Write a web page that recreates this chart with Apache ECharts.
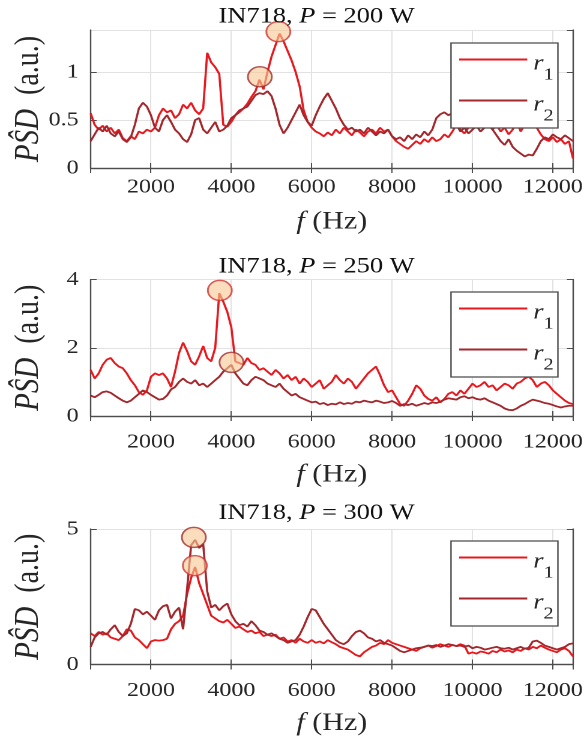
<!DOCTYPE html>
<html>
<head>
<meta charset="utf-8">
<script src="https://cdn.jsdelivr.net/npm/echarts@6/dist/echarts.min.js"></script>
<style>
html,body{margin:0;padding:0;background:#fff;overflow:hidden;}
#wrap{width:587px;height:738px;overflow:hidden;position:relative;background:#fff;}
#chart{width:489px;height:738px;transform:scaleX(1.20041);transform-origin:0 0;}
</style>
</head>
<body>
<div id="wrap"><div id="chart"></div></div>
<script>
// ---------------- data ----------------
const freq = [
  500,600,700,800,900,1000,1100,1200,1300,1400,
  1500,1600,1700,1800,1900,2000,2100,2200,2300,2400,
  2500,2600,2700,2800,2900,3000,3100,3200,3300,3400,
  3500,3600,3700,3800,3900,4000,4100,4200,4300,4400,
  4500,4600,4700,4800,4900,5000,5100,5200,5300,5400,
  5500,5600,5700,5800,5900,6000,6100,6200,6300,6400,
  6500,6600,6700,6800,6900,7000,7100,7200,7300,7400,
  7500,7600,7700,7800,7900,8000,8100,8200,8300,8400,
  8500,8600,8700,8800,8900,9000,9100,9200,9300,9400,
  9500,9600,9700,9800,9900,10000,10100,10200,10300,10400,
  10500,10600,10700,10800,10900,11000,11100,11200,11300,11400,
  11500,11600,11700,11800,11900,12000,12100,12200,12300,12400,
  12500
];

const psd200_r1 = [
  0.57,0.45,0.40,0.44,0.38,0.42,0.36,0.40,0.31,0.28,
  0.33,0.30,0.38,0.36,0.40,0.38,0.42,0.55,0.62,0.58,
  0.60,0.52,0.56,0.66,0.62,0.68,0.60,0.56,0.62,1.20,
  1.10,1.05,0.98,0.45,0.43,0.48,0.55,0.58,0.62,0.67,
  0.74,0.80,0.92,0.82,1.00,1.16,1.28,1.40,1.32,1.22,
  1.12,1.00,0.85,0.60,0.48,0.42,0.38,0.36,0.33,0.37,
  0.34,0.40,0.36,0.42,0.38,0.34,0.40,0.37,0.33,0.38,
  0.40,0.36,0.42,0.38,0.40,0.33,0.28,0.25,0.22,0.20,
  0.24,0.28,0.25,0.30,0.27,0.32,0.28,0.30,0.35,0.32,
  0.38,0.45,0.40,0.36,0.42,0.48,0.60,0.55,0.50,0.45,
  0.40,0.45,0.38,0.42,0.35,0.40,0.48,0.38,0.45,0.50,
  0.55,0.42,0.35,0.30,0.28,0.32,0.27,0.30,0.25,0.28,
  0.10
];
const psd200_r2 = [
  0.28,0.35,0.42,0.38,0.44,0.36,0.33,0.38,0.30,0.27,
  0.32,0.45,0.62,0.68,0.64,0.55,0.42,0.38,0.50,0.55,
  0.48,0.40,0.36,0.30,0.27,0.35,0.50,0.52,0.40,0.36,
  0.42,0.48,0.38,0.40,0.44,0.52,0.55,0.60,0.62,0.64,
  0.70,0.76,0.78,0.77,0.80,0.75,0.62,0.45,0.36,0.42,
  0.50,0.58,0.66,0.55,0.48,0.44,0.55,0.64,0.72,0.78,
  0.70,0.62,0.52,0.45,0.40,0.42,0.38,0.40,0.36,0.42,
  0.38,0.34,0.38,0.36,0.40,0.33,0.30,0.32,0.28,0.34,
  0.30,0.35,0.32,0.38,0.34,0.40,0.52,0.56,0.58,0.55,
  0.57,0.45,0.38,0.42,0.36,0.40,0.44,0.38,0.42,0.46,
  0.40,0.34,0.28,0.24,0.30,0.22,0.18,0.15,0.12,0.14,
  0.13,0.20,0.28,0.32,0.30,0.35,0.32,0.30,0.34,0.31,
  0.28
];
const psd250_r1 = [
  1.35,1.10,1.25,1.50,1.65,1.70,1.55,1.45,1.40,1.25,
  1.05,0.90,0.70,0.62,0.75,1.15,1.25,1.20,1.25,1.10,
  0.85,1.30,1.85,2.15,1.90,1.60,1.50,1.75,2.05,1.70,
  1.60,2.00,3.60,3.35,3.05,2.60,1.60,1.55,1.50,1.70,
  1.55,1.50,1.35,1.40,1.30,1.20,1.35,1.25,1.10,1.20,
  1.05,1.15,0.95,1.10,1.00,0.85,0.95,1.05,0.80,0.90,
  1.00,1.20,1.05,0.95,1.10,1.00,0.80,0.95,1.10,1.25,
  1.35,1.45,1.20,0.90,0.70,0.75,0.55,0.35,0.30,0.45,
  0.65,0.90,0.80,0.60,0.50,0.45,0.55,0.40,0.50,0.65,
  0.70,0.60,0.75,0.65,0.80,0.95,0.85,0.90,1.00,0.85,
  0.90,0.75,0.85,0.95,0.90,0.80,0.95,1.00,1.10,1.15,
  1.05,0.85,0.95,1.00,0.90,0.75,0.65,0.55,0.45,0.38,
  0.35
];
const psd250_r2 = [
  0.60,0.55,0.62,0.70,0.72,0.68,0.60,0.52,0.45,0.40,
  0.45,0.55,0.65,0.75,0.70,0.62,0.55,0.48,0.50,0.60,
  0.78,0.85,1.00,1.10,1.00,0.95,1.05,0.90,0.95,0.85,
  0.95,1.05,1.15,1.30,1.40,1.50,1.25,1.10,0.95,0.90,
  1.05,1.15,1.10,1.05,0.95,0.90,0.85,0.95,0.80,0.70,
  0.60,0.65,0.55,0.50,0.45,0.40,0.42,0.35,0.38,0.32,
  0.36,0.34,0.40,0.35,0.38,0.36,0.42,0.40,0.45,0.42,
  0.40,0.45,0.42,0.38,0.40,0.44,0.38,0.30,0.35,0.32,
  0.36,0.30,0.34,0.38,0.35,0.40,0.38,0.42,0.48,0.52,
  0.50,0.48,0.55,0.58,0.52,0.55,0.50,0.48,0.52,0.45,
  0.40,0.35,0.30,0.22,0.18,0.17,0.22,0.30,0.35,0.42,
  0.48,0.45,0.42,0.38,0.36,0.32,0.28,0.25,0.28,0.30,
  0.30
];
const psd300_r1 = [
  1.15,1.05,1.20,1.10,1.15,1.00,0.95,0.90,1.05,1.30,
  1.25,1.00,0.90,0.75,0.60,0.85,0.90,0.88,0.90,0.95,
  1.30,1.50,1.60,1.80,2.60,3.20,3.60,3.00,2.60,2.20,
  1.80,1.70,1.60,1.55,1.65,1.50,1.35,1.40,1.30,1.20,
  1.25,1.15,1.20,1.05,1.10,1.05,1.10,0.95,1.00,0.85,
  0.90,0.80,0.95,0.85,0.80,0.90,0.80,0.85,0.78,0.90,
  0.82,0.75,0.65,0.60,0.55,0.45,0.35,0.30,0.45,0.55,
  0.65,0.70,0.80,0.75,0.90,0.80,0.75,0.70,0.65,0.60,
  0.55,0.50,0.60,0.65,0.70,0.62,0.68,0.75,0.70,0.65,
  0.72,0.68,0.75,0.70,0.40,0.45,0.40,0.48,0.45,0.40,
  0.50,0.45,0.55,0.48,0.52,0.45,0.55,0.50,0.60,0.55,
  0.65,0.60,0.70,0.62,0.55,0.50,0.45,0.55,0.60,0.50,
  0.30
];
const psd300_r2 = [
  0.65,1.00,1.15,1.20,1.10,1.30,1.45,1.20,1.05,1.15,
  1.50,2.05,2.00,1.85,1.95,1.80,1.65,2.00,2.15,2.20,
  1.70,1.95,2.10,1.30,2.80,4.40,4.60,4.30,4.45,2.70,
  2.10,2.20,2.00,2.15,2.25,1.85,1.60,1.45,1.50,1.40,
  1.60,1.45,1.25,1.20,1.10,1.15,1.05,0.95,0.90,0.80,
  0.85,0.90,1.10,1.40,1.75,2.05,2.00,1.75,1.50,1.30,
  1.10,0.90,0.80,0.75,0.85,1.05,1.20,1.25,1.15,1.00,
  0.95,0.85,0.90,0.80,0.75,0.70,0.60,0.50,0.45,0.50,
  0.55,0.60,0.62,0.65,0.70,0.68,0.72,0.65,0.70,0.75,
  0.72,0.68,0.70,0.65,0.70,0.60,0.65,0.62,0.55,0.58,
  0.62,0.65,0.60,0.58,0.62,0.55,0.60,0.65,0.58,0.62,
  0.85,0.88,0.80,0.70,0.65,0.60,0.55,0.60,0.65,0.75,
  0.78
];

// marked peaks [frequency, PSD]
const peak200_r1 = [[5170, 1.42]];
const peak200_r2 = [[4710, 0.95]];
const peak250_r1 = [[3714, 3.68]];
const peak250_r2 = [[4004, 1.57]];
const peak300_r1 = [[3093, 3.65]];
const peak300_r2 = [[3068, 4.69]];

const powers = ['200', '250', '300'];
const yMaxes = [1.4375, 4, 5];
const yIntervals = [0.5, 2, 5];
const seriesNames = ['r1', 'r2'];

// ---------------- styling / layout ----------------
const FONT = '"Liberation Serif","Times New Roman",Times,serif';
const C1 = '#e8191e';
const C2 = '#a3282d';
const FILL = 'rgba(247,200,148,0.78)';
const AX = '#4d4d4d';
const GRIDC = '#e2e2e2';
const TXT = '#262626';

const panelsData = [
  {r1: psd200_r1, r2: psd200_r2, p1: peak200_r1, p2: peak200_r2},
  {r1: psd250_r1, r2: psd250_r2, p1: peak250_r1, p2: peak250_r2},
  {r1: psd300_r1, r2: psd300_r2, p1: peak300_r1, p2: peak300_r2}
];
const layout = [
  {top: 30,    height: 138,   titleY: 16.7,  legTop: 43,  labelMargin: 9,  xNameGap: 40},
  {top: 279.5, height: 136.5, titleY: 266.7, legTop: 292, labelMargin: 16, xNameGap: 45},
  {top: 529,   height: 135.5, titleY: 513.3, legTop: 541, labelMargin: 16, xNameGap: 45}
];
const GL = 75.5, GR = 11.7;

const xNameRich = () => ({
  i: {fontFamily: FONT, fontSize: 25, fontStyle: 'italic', fontWeight: 'normal', color: TXT, lineHeight: 28},
  n: {fontFamily: FONT, fontSize: 25, fontWeight: 'normal', color: TXT, lineHeight: 28}
});
const yNameRich = () => ({
  i: {fontFamily: FONT, fontSize: 29, fontStyle: 'italic', fontWeight: 'normal', fill: TXT, lineHeight: 30},
  n: {fontFamily: FONT, fontSize: 28, fontWeight: 'normal', fill: TXT, lineHeight: 30}
});
const plain = v => String(v);

const grids = [], xAxes = [], yAxes = [], series = [], titles = [], legends = [], graphics = [];
layout.forEach((L, i) => {
  grids.push({left: GL, right: GR, top: L.top, height: L.height, containLabel: false, outerBoundsMode: 'none'});
  titles.push({
    text: '{n|IN718, }{i|P}{n| = ' + powers[i] + ' W}',
    left: 263.7, top: L.titleY, padding: 0,
    textAlign: 'center', textVerticalAlign: 'middle',
    textStyle: {fontWeight: 'normal', rich: {
      n: {fontFamily: FONT, fontSize: 22, fontWeight: 'normal', color: '#111', lineHeight: 24},
      i: {fontFamily: FONT, fontSize: 22, fontWeight: 'normal', color: '#111', fontStyle: 'italic', lineHeight: 24}
    }}
  });
  // y-axis title (rotated)
  graphics.push({
    type: 'text', x: 24, y: L.top + L.height / 2, rotation: Math.PI / 2, silent: true,
    style: {text: '{i|PŜD}{n|  (a.u.)}', align: 'center', verticalAlign: 'middle', rich: yNameRich()}
  });
  legends.push({
    data: seriesNames, orient: 'vertical', left: 375.7, top: L.legTop,
    padding: [2.5, 3.5, 3.5, 5.8], itemGap: 3, itemWidth: 56.7, itemHeight: 35,
    borderColor: AX, borderWidth: 1.2, backgroundColor: '#fff', selectedMode: false,
    lineStyle: {width: 2},
    itemStyle: {color: 'rgba(0,0,0,0)', borderWidth: 0, opacity: 0},
    formatter: name => '{r|r}{s|' + name.slice(1) + '}',
    textStyle: {rich: {
      r: {fontFamily: FONT, fontSize: 22, fontStyle: 'italic', color: TXT, lineHeight: 22, padding: [4, 0, 0, 0], verticalAlign: 'top'},
      s: {fontFamily: FONT, fontSize: 17, color: TXT, lineHeight: 17, padding: [18, 0, 0, 0], verticalAlign: 'top'}
    }}
  });
  xAxes.push({
    gridIndex: i, type: 'value', min: 500, max: 12500, splitNumber: 6,
    axisLine: {show: true, lineStyle: {color: AX, width: 1.2}},
    axisTick: {show: true, inside: true, length: 5, lineStyle: {color: AX}},
    axisLabel: {margin: L.labelMargin, fontFamily: FONT, fontSize: 20, color: TXT, showMinLabel: false, showMaxLabel: false, formatter: plain},
    splitLine: {show: true, lineStyle: {color: GRIDC, width: 1}},
    name: '{i|f}{n| (Hz)}', nameLocation: 'middle', nameGap: L.xNameGap,
    nameTextStyle: {fontFamily: FONT, fontSize: 25, rich: xNameRich()}
  });
  yAxes.push({
    gridIndex: i, type: 'value', min: 0, max: yMaxes[i], interval: yIntervals[i],
    axisLine: {show: true, lineStyle: {color: AX, width: 1.2}},
    axisTick: {show: true, inside: true, length: 5, lineStyle: {color: AX}},
    axisLabel: {margin: 10, fontFamily: FONT, fontSize: 20, color: TXT, showMaxLabel: i !== 0, formatter: plain},
    splitLine: {show: true, lineStyle: {color: GRIDC, width: 1}}
  });
});
// secondary axes (box ticks on top / right)
layout.forEach((L, i) => {
  xAxes.push({
    gridIndex: i, type: 'value', position: 'top', min: 500, max: 12500, splitNumber: 6,
    axisLine: {show: true, lineStyle: {color: AX, width: 1.2}},
    axisTick: {show: true, inside: true, length: 5, lineStyle: {color: AX}},
    axisLabel: {show: false}, splitLine: {show: false}
  });
  yAxes.push({
    gridIndex: i, type: 'value', position: 'right', min: 0, max: yMaxes[i], interval: yIntervals[i],
    axisLine: {show: true, lineStyle: {color: AX, width: 1.2}},
    axisTick: {show: true, inside: true, length: 5, lineStyle: {color: AX}},
    axisLabel: {show: false}, splitLine: {show: false}
  });
});

panelsData.forEach((P, i) => {
  const mk = arr => freq.map((f, k) => [f, arr[k]]);
  series.push({
    name: 'r1', type: 'line', xAxisIndex: i, yAxisIndex: i, data: mk(P.r1),
    symbol: 'none', showSymbol: false, lineStyle: {color: C1, width: 1.8}, itemStyle: {color: C1}, z: 3
  });
  series.push({
    name: 'r2', type: 'line', xAxisIndex: i, yAxisIndex: i, data: mk(P.r2),
    symbol: 'none', showSymbol: false, lineStyle: {color: C2, width: 1.8}, itemStyle: {color: C2}, z: 3
  });
  series.push({
    name: 'peak r1', type: 'scatter', xAxisIndex: i, yAxisIndex: i, data: P.p1,
    symbol: 'circle', symbolSize: 20, silent: true,
    itemStyle: {color: FILL, borderColor: '#d23434', borderWidth: 1.5}, z: 5
  });
  series.push({
    name: 'peak r2', type: 'scatter', xAxisIndex: i, yAxisIndex: i, data: P.p2,
    symbol: 'circle', symbolSize: 20, silent: true,
    itemStyle: {color: FILL, borderColor: '#a0302f', borderWidth: 1.5}, z: 5
  });
});

const chart = echarts.init(document.getElementById('chart'), null, {renderer: 'canvas', devicePixelRatio: 2});
chart.setOption({
  animation: false,
  backgroundColor: '#fff',
  title: titles,
  legend: legends,
  grid: grids,
  xAxis: xAxes,
  yAxis: yAxes,
  graphic: {elements: graphics},
  series: series
});
</script>
</body>
</html>
